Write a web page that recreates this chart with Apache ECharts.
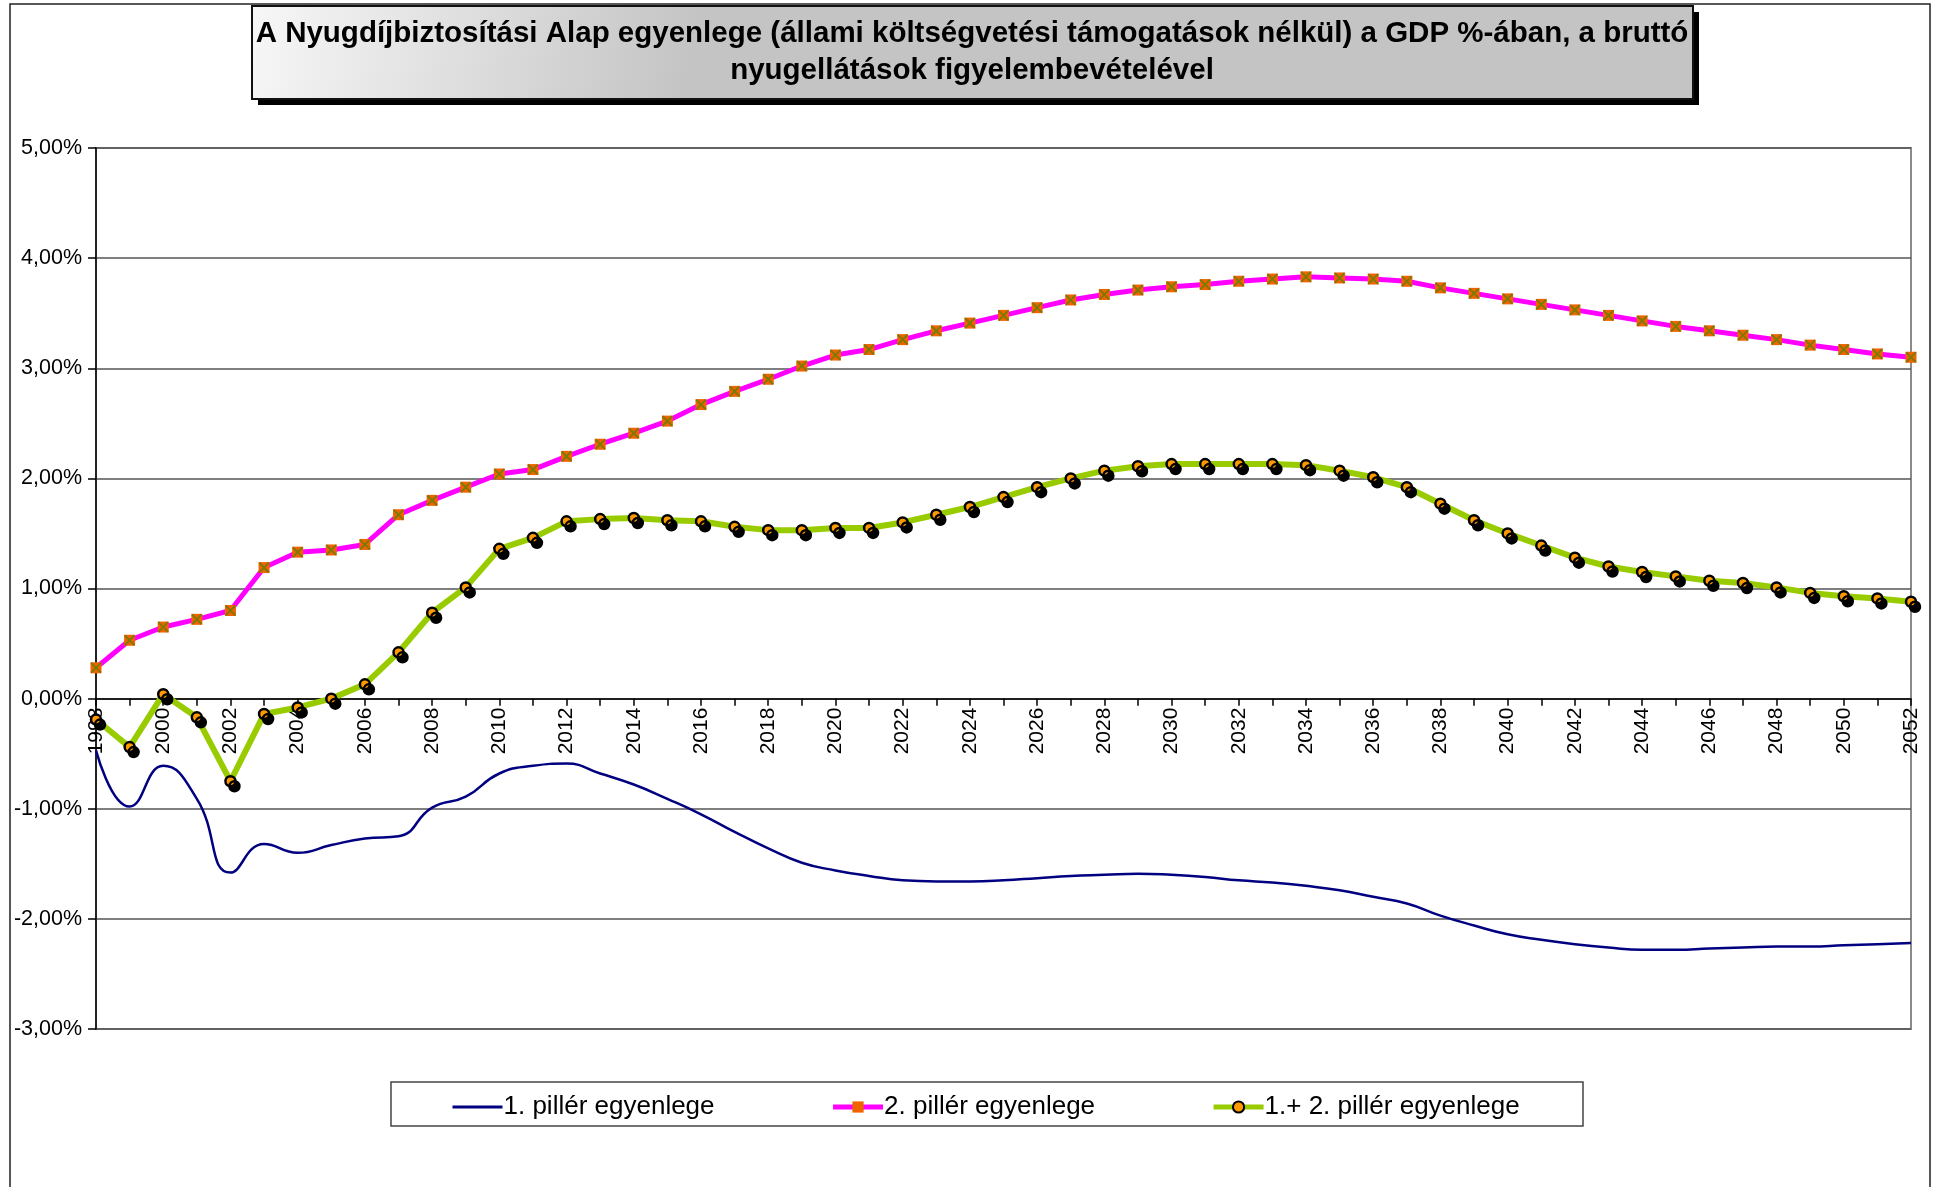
<!DOCTYPE html>
<html>
<head>
<meta charset="utf-8">
<title>Nyugdíjbiztosítási Alap egyenlege</title>
<script src="https://cdn.jsdelivr.net/npm/echarts@6/dist/echarts.min.js"></script>
<style>
  html, body { margin: 0; padding: 0; background: #fff; }
  #chart { width: 1934px; height: 1187px; }
</style>
</head>
<body>
<div id="chart"></div>
<script>
// years on the category axis
const years = []
for (let y = 1998; y <= 2052; y++) years.push(String(y))

// GDP %
const pillar1 = [
  -0.47, -0.98, -0.61, -0.91, -1.58, -1.32, -1.40, -1.33, -1.27, -1.25,
  -0.99, -0.89, -0.68, -0.61, -0.59, -0.68, -0.78, -0.91, -1.05, -1.21,
  -1.36, -1.49, -1.56, -1.61, -1.65, -1.66, -1.66, -1.65, -1.63, -1.61,
  -1.60, -1.59, -1.60, -1.62, -1.65, -1.67, -1.70, -1.74, -1.80, -1.86,
  -1.97, -2.06, -2.14, -2.19, -2.23, -2.26, -2.28, -2.28, -2.27, -2.26,
  -2.25, -2.25, -2.24, -2.23, -2.22
]
const pillar2 = [
  0.28, 0.53, 0.65, 0.72, 0.80, 1.19, 1.33, 1.35, 1.40, 1.67,
  1.80, 1.92, 2.04, 2.08, 2.20, 2.31, 2.41, 2.52, 2.67, 2.79,
  2.90, 3.02, 3.12, 3.17, 3.26, 3.34, 3.41, 3.48, 3.55, 3.62,
  3.67, 3.71, 3.74, 3.76, 3.79, 3.81, 3.83, 3.82, 3.81, 3.79,
  3.73, 3.68, 3.63, 3.58, 3.53, 3.48, 3.43, 3.38, 3.34, 3.30,
  3.26, 3.21, 3.17, 3.13, 3.10
]
const pillarSum = [
  -0.19, -0.44, 0.04, -0.17, -0.75, -0.14, -0.08, 0.00, 0.13, 0.42,
  0.78, 1.01, 1.36, 1.46, 1.61, 1.63, 1.64, 1.62, 1.61, 1.56,
  1.53, 1.53, 1.55, 1.55, 1.60, 1.67, 1.74, 1.83, 1.92, 2.00,
  2.07, 2.11, 2.13, 2.13, 2.13, 2.13, 2.12, 2.07, 2.01, 1.92,
  1.77, 1.62, 1.50, 1.39, 1.28, 1.20, 1.15, 1.11, 1.07, 1.05,
  1.01, 0.96, 0.93, 0.91, 0.88
]

const seriesNames = ['1. pillér egyenlege', '2. pillér egyenlege', '1.+ 2. pillér egyenlege']
const titleLines = [
  'A Nyugdíjbiztosítási Alap egyenlege (állami költségvetési támogatások nélkül) a GDP %-ában, a bruttó',
  'nyugellátások figyelembevételével'
]
const yMin = -3
const yMax = 5

const font = 'Arial, "Liberation Sans", sans-serif'
const crossPath = 'path://M0,1.2L1.2,0L5,3.8L8.8,0L10,1.2L6.2,5L10,8.8L8.8,10L5,6.2L1.2,10L0,8.8L3.8,5Z'

const gridTop = 148
const gridBottom = 158
const plotHeight = 1187 - gridTop - gridBottom
// the category axis sits on the 0% line
const zeroOffset = -plotHeight * (0 - yMin) / (yMax - yMin)

const chart = echarts.init(document.getElementById('chart'))

chart.setOption({
  animation: false,
  backgroundColor: '#fff',
  textStyle: { fontFamily: font, color: '#000' },
  graphic: [
    // outer chart frame
    {
      type: 'rect', silent: true,
      shape: { x: 10, y: 4, width: 1920, height: 1200 },
      style: { fill: 'none', stroke: '#222', lineWidth: 1.5 }
    },
    // title box: shadow, gradient box, text
    {
      type: 'rect', silent: true,
      shape: { x: 258, y: 12, width: 1441, height: 93 },
      style: { fill: '#000' }
    },
    {
      type: 'rect', silent: true,
      shape: { x: 252, y: 6, width: 1441, height: 93 },
      style: {
        fill: new echarts.graphic.LinearGradient(0, 0, 0.3, 1, [
          { offset: 0, color: '#f7f7f7' },
          { offset: 1, color: '#c4c4c4' }
        ]),
        stroke: '#111', lineWidth: 2
      }
    },
    {
      type: 'text', silent: true, x: 972, y: 34,
      style: {
        text: titleLines[0], fontFamily: font, fontWeight: 'bold', fontSize: 29.5,
        fill: '#000', align: 'center', verticalAlign: 'middle'
      }
    },
    {
      type: 'text', silent: true, x: 972, y: 71,
      style: {
        text: titleLines[1], fontFamily: font, fontWeight: 'bold', fontSize: 29.5,
        fill: '#000', align: 'center', verticalAlign: 'middle'
      }
    },
    // legend frame
    {
      type: 'rect', silent: true,
      shape: { x: 391, y: 1082, width: 1192, height: 44 },
      style: { fill: 'none', stroke: '#444', lineWidth: 1.5 }
    }
  ],
  legend: {
    data: [
      { name: seriesNames[0], itemStyle: { opacity: 0 }, lineStyle: { width: 3 } },
      { name: seriesNames[1], lineStyle: { width: 5 } },
      { name: seriesNames[2], lineStyle: { width: 5 } }
    ],
    left: 451,
    top: 1094,
    itemWidth: 50,
    itemHeight: 14,
    itemGap: 116,
    padding: 0,
    textStyle: { fontFamily: font, fontSize: 26, color: '#000', padding: [0, 0, 0, -4] }
  },
  grid: {
    left: 96,
    right: 23,
    top: gridTop,
    bottom: gridBottom,
    show: true,
    borderColor: '#8a8a8a',
    borderWidth: 2,
    backgroundColor: '#fff'
  },
  xAxis: {
    type: 'category',
    data: years,
    boundaryGap: false,
    offset: zeroOffset,
    axisLine: { onZero: false, lineStyle: { color: '#000', width: 1.5 } },
    axisTick: { show: true, interval: 0, length: 7, lineStyle: { color: '#000', width: 1.5 } },
    axisLabel: {
      interval: 1, rotate: 90, margin: 9,
      fontFamily: font, fontSize: 21, color: '#000'
    },
    splitLine: { show: false }
  },
  yAxis: {
    type: 'value',
    min: yMin,
    max: yMax,
    interval: 1,
    axisLine: { show: true, lineStyle: { color: '#222', width: 2 } },
    axisTick: { show: true, length: 8, lineStyle: { color: '#000', width: 1.5 } },
    axisLabel: {
      margin: 14, fontFamily: font, fontSize: 21.5, color: '#000',
      formatter: v => v.toFixed(2).replace('.', ',') + '%'
    },
    splitLine: { show: true, lineStyle: { color: '#555', width: 1.5 } }
  },
  series: [
    {
      name: seriesNames[0],
      type: 'line',
      data: pillar1,
      smooth: 0.5,
      symbol: 'none',
      color: '#000080',
      lineStyle: { color: '#000080', width: 2.5 },
      z: 3
    },
    {
      name: seriesNames[1],
      type: 'line',
      data: pillar2,
      symbol: 'rect',
      symbolSize: 11,
      color: '#f06400',
      itemStyle: { color: '#f06400' },
      lineStyle: { color: '#ff00ff', width: 5 },
      z: 4
    },
    {
      // olive cross drawn over the square markers of series 2
      name: 'x2',
      type: 'line',
      data: pillar2,
      symbol: crossPath,
      symbolSize: 11,
      itemStyle: { color: '#7a7a00' },
      lineStyle: { width: 0, opacity: 0 },
      z: 5
    },
    {
      name: seriesNames[2],
      type: 'line',
      data: pillarSum,
      symbol: 'circle',
      symbolSize: 10,
      color: '#ff9900',
      itemStyle: {
        color: '#ff9900', borderColor: '#000', borderWidth: 2.5,
        shadowColor: '#000', shadowBlur: 0, shadowOffsetX: 4, shadowOffsetY: 5
      },
      lineStyle: { color: '#99cc00', width: 6, shadowBlur: 0, shadowColor: 'transparent' },
      z: 6
    }
  ]
})
</script>
</body>
</html>
